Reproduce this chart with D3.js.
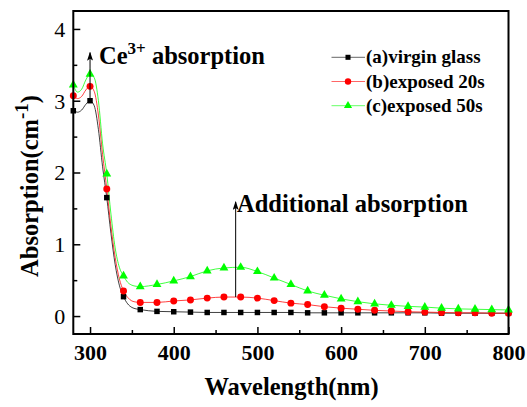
<!DOCTYPE html>
<html>
<head>
<meta charset="utf-8">
<script src="https://cdn.jsdelivr.net/npm/d3@7"></script>
<style>
  html, body { margin: 0; padding: 0; background: #fff; }
  svg { display: block; }
  text { font-family: "Liberation Serif", "Times New Roman", serif; fill: #000; }
</style>
</head>
<body>
<svg id="chart" width="527" height="407"></svg>
<script>
// ---- data ----
const wavelengths = [280,300,320,340,360,380,400,420,440,460,480,500,520,540,560,580,600,620,640,660,680,700,720,740,760,780,800];
const virgin    = [2.86,3.00,1.65,0.27,0.09,0.065,0.06,0.055,0.05,0.05,0.05,0.05,0.05,0.05,0.045,0.045,0.045,0.045,0.045,0.045,0.045,0.045,0.04,0.04,0.04,0.04,0.04];
const exposed20 = [3.07,3.20,1.77,0.35,0.19,0.19,0.21,0.225,0.25,0.265,0.265,0.25,0.215,0.18,0.16,0.13,0.11,0.095,0.08,0.07,0.06,0.055,0.05,0.045,0.045,0.04,0.04];
const exposed50 = [3.22,3.37,1.98,0.56,0.41,0.44,0.49,0.55,0.63,0.67,0.68,0.62,0.53,0.44,0.35,0.29,0.24,0.20,0.17,0.15,0.135,0.125,0.11,0.10,0.095,0.09,0.085];

// denser readings of the absorption edge (line only, no markers)
const edgeWavelengths = [280,285,290,295,300,305,310,315,320,325,330,335,340,345,350,355];
const virginEdge    = [2.86,2.84,2.87,2.95,3.00,2.93,2.60,2.08,1.65,1.15,0.72,0.43,0.27,0.17,0.12,0.10];
const exposed20Edge = [3.07,3.03,3.06,3.15,3.20,3.13,2.80,2.25,1.77,1.25,0.82,0.52,0.35,0.26,0.21,0.195];
const exposed50Edge = [3.22,3.12,3.16,3.29,3.37,3.32,3.00,2.40,1.98,1.42,0.95,0.68,0.56,0.47,0.43,0.415];

const seriesNames = ["(a)virgin glass", "(b)exposed 20s", "(c)exposed 50s"];
const xTicks = [300,400,500,600,700,800];
const xMinorTicks = [350,450,550,650,750];
const yTicks = [0,1,2,3,4];
const yMinorTicks = [0.5,1.5,2.5,3.5];

// ---- layout ----
const svg = d3.select("#chart");
const mLeft = 73.3, mRight = 508.5, mTop = 11, mBottom = 334;
const x = d3.scaleLinear().domain([280, 800]).range([mLeft, mRight]);
const y = d3.scaleLinear().domain([-0.25, 4.25]).range([mBottom, mTop]);
const FONT = '"Liberation Serif", "Times New Roman", serif';

const series = [
  { name: seriesNames[0], vals: virgin, edge: virginEdge, marker: d3.symbolSquare, size: 30, fill: "#000", line: "#000" },
  { name: seriesNames[1], vals: exposed20, edge: exposed20Edge, marker: d3.symbolCircle, size: 38, fill: "#ff0000", line: "#ff0000" },
  { name: seriesNames[2], vals: exposed50, edge: exposed50Edge, marker: d3.symbolTriangle, size: 34, fill: "#00ff00", line: "#00ff00" }
];

const lineGen = d3.line().x(d => x(d[0])).y(d => y(d[1])).curve(d3.curveMonotoneX);

const plot = svg.append("g");
series.forEach(s => {
  const pts = edgeWavelengths.map((w, i) => [w, s.edge[i]])
    .concat(wavelengths.map((w, i) => [w, s.vals[i]]).filter(d => d[0] > 355));
  plot.append("path").attr("d", lineGen(pts))
    .attr("fill", "none").attr("stroke", s.line).attr("stroke-width", 1).attr("stroke-opacity", 0.75);
});
series.forEach(s => {
  plot.selectAll(null).data(wavelengths.map((w, i) => [w, s.vals[i]])).enter()
    .append("path")
    .attr("d", d3.symbol().type(s.marker).size(s.size))
    .attr("transform", d => `translate(${x(d[0])},${y(d[1])})`)
    .attr("fill", s.fill);
});

// ---- axes ----
const xAxis = d3.axisBottom(x).tickValues(xTicks).tickSize(-7).tickPadding(12).tickFormat(d3.format("d"));
const gx = svg.append("g").attr("transform", `translate(0,${mBottom})`).call(xAxis);
gx.select(".domain").remove();
gx.selectAll(".tick line").attr("stroke", "#000").attr("stroke-width", 1.5);
gx.selectAll(".tick text").attr("font-family", FONT).attr("font-size", 22).attr("font-weight", "bold").attr("dy", 0).attr("y", 25.5);
const gxm = svg.append("g").attr("transform", `translate(0,${mBottom})`)
  .call(d3.axisBottom(x).tickValues(xMinorTicks).tickSize(-4).tickFormat(""));
gxm.select(".domain").remove();
gxm.selectAll(".tick line").attr("stroke", "#000").attr("stroke-width", 1.5);

const yAxis = d3.axisLeft(y).tickValues(yTicks).tickSize(-7).tickPadding(8).tickFormat(d3.format("d"));
const gy = svg.append("g").attr("transform", `translate(${mLeft},0)`).call(yAxis);
gy.select(".domain").remove();
gy.selectAll(".tick line").attr("stroke", "#000").attr("stroke-width", 1.5);
gy.selectAll(".tick text").attr("font-family", FONT).attr("font-size", 22).attr("x", -8).attr("dy", "0.34em");
const gym = svg.append("g").attr("transform", `translate(${mLeft},0)`)
  .call(d3.axisLeft(y).tickValues(yMinorTicks).tickSize(-4).tickFormat(""));
gym.select(".domain").remove();
gym.selectAll(".tick line").attr("stroke", "#000").attr("stroke-width", 1.5);

// frame
svg.append("rect").attr("x", mLeft).attr("y", mTop).attr("width", mRight - mLeft).attr("height", mBottom - mTop)
  .attr("fill", "none").attr("stroke", "#000").attr("stroke-width", 2);

// axis titles
svg.append("text").attr("x", 291.5).attr("y", 395)
  .attr("text-anchor", "middle").attr("font-size", 24.5).attr("font-weight", "bold")
  .text("Wavelength(nm)");
const yt = svg.append("text").attr("transform", "translate(37.5,186) rotate(-90)")
  .attr("text-anchor", "middle").attr("font-size", 24.5).attr("font-weight", "bold");
yt.append("tspan").text("Absorption(cm");
yt.append("tspan").attr("dy", -10).attr("font-size", 19).text("-1");
yt.append("tspan").attr("dy", 10).text(")");

// ---- annotations ----
svg.append("defs").append("marker").attr("id", "arrow")
  .attr("viewBox", "0 0 6 12").attr("refX", 3).attr("refY", 1)
  .attr("markerWidth", 6).attr("markerHeight", 12).attr("markerUnits", "userSpaceOnUse")
  .attr("orient", "0")
  .append("path").attr("d", "M3,0 L6,9 L3,7 L0,9 Z").attr("fill", "#000");

function arrow(w, v0, v1) {
  svg.append("line").attr("x1", x(w)).attr("x2", x(w)).attr("y1", y(v0)).attr("y2", y(v1))
    .attr("stroke", "#000").attr("stroke-width", 1).attr("marker-end", "url(#arrow)");
}
arrow(300, 3.0, 3.67);
arrow(474, 0.265, 1.59);

const ce = svg.append("text").attr("x", 99).attr("y", 63.5).attr("font-size", 24.5).attr("font-weight", "bold");
ce.append("tspan").text("Ce");
ce.append("tspan").attr("dy", -10).attr("font-size", 17).text("3+");
ce.append("tspan").attr("dy", 10).text(" absorption");

svg.append("text").attr("x", 237).attr("y", 211.5).attr("font-size", 24.5).attr("font-weight", "bold")
  .text("Additional absorption");

// ---- legend ----
const leg = svg.append("g");
series.forEach((s, i) => {
  const cy = 57.3 + i * 24.2;
  leg.append("line").attr("x1", 331.5).attr("x2", 365).attr("y1", cy).attr("y2", cy)
    .attr("stroke", s.line).attr("stroke-width", 1).attr("stroke-opacity", 0.6);
  leg.append("path").attr("d", d3.symbol().type(s.marker).size(s.size * 0.85))
    .attr("transform", `translate(348,${cy})`).attr("fill", s.fill);
  leg.append("text").attr("x", 366).attr("y", cy + 6).attr("font-size", 19).attr("font-weight", "bold")
    .text(s.name);
});
</script>
</body>
</html>
